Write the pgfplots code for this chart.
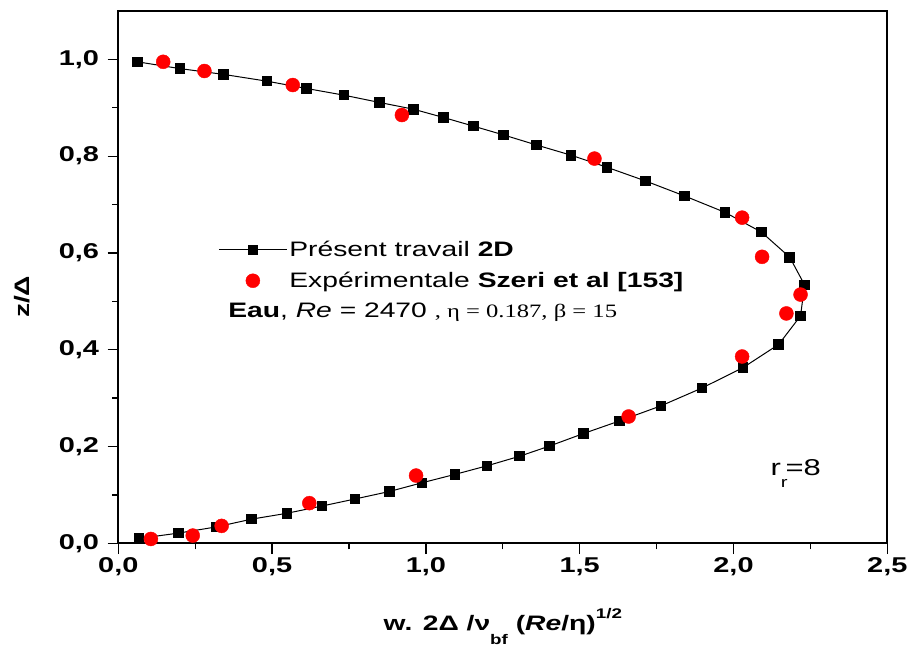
\documentclass[border=0pt]{standalone}
\usepackage{fontspec}
\setmainfont{Liberation Sans}[FakeStretch=1.35]
\newfontfamily\tnr{Liberation Serif}[FakeStretch=1.3]
\usepackage{pgfplots}
\pgfplotsset{compat=1.18}
\pgfplotstableread{
x y
0.067 0.010
0.195 0.021
0.320 0.034
0.434 0.050
0.548 0.062
0.662 0.077
0.769 0.0915
0.881 0.107
0.987 0.125
1.095 0.1425
1.198 0.160
1.305 0.180
1.402 0.201
1.513 0.227
1.630 0.253
1.764 0.284
1.898 0.321
2.031 0.363
2.147 0.411
2.218 0.470
2.231 0.534
2.183 0.591
2.091 0.643
1.972 0.684
1.840 0.718
1.713 0.749
1.589 0.777
1.472 0.802
1.360 0.823
1.252 0.844
1.155 0.862
1.057 0.880
0.960 0.897
0.849 0.911
0.734 0.926
0.611 0.940
0.483 0.955
0.342 0.969
0.200 0.981
0.062 0.995
}\simdata
\pgfplotstableread{
x y
0.106 0.009
0.242 0.016
0.336 0.036
0.621 0.083
0.968 0.140
1.659 0.262
2.028 0.386
2.172 0.475
2.218 0.514
2.093 0.592
2.028 0.673
1.548 0.795
0.922 0.885
0.567 0.947
0.280 0.976
0.146 0.995
}\expdata
\begin{document}
\begin{tikzpicture}
\useasboundingbox (-118.3bp,-104.7bp) rectangle (791.7bp,543.3bp);
\begin{axis}[
  scale only axis, width=769bp, height=532.3bp,
  at={(0,0)}, anchor=south west,
  xmin=0, xmax=2.5, ymin=0, ymax=1.1,
  clip=false,
  xtick={0,0.5,1,1.5,2,2.5}, ytick={0,0.2,0.4,0.6,0.8,1.0},
  minor x tick num=1, minor y tick num=1,
  tick pos=left, tick align=outside,
  major tick length=10.7bp, minor tick length=6bp,
  every tick/.style={black, line width=1.3bp},
  axis line style={line width=1.8bp},
  /pgf/number format/use comma,
  /pgf/number format/fixed,
  /pgf/number format/fixed zerofill,
  /pgf/number format/precision=1,
  /pgf/number format/assume math mode=true,
  tick label style={font=\bfseries\fontsize{21.5}{21.5}\selectfont},
  yticklabel style={xshift=-5bp},
  xlabel={\bfseries w. 2Δ /ν\raisebox{-14bp}{\fontsize{14}{14}\selectfont bf} (\textit{Re}/η)\raisebox{12bp}{\fontsize{14}{14}\selectfont 1/2}},
  xlabel style={at={(axis description cs:0.5,-0.163)}, anchor=base, font=\fontsize{21}{21}\selectfont},
  ylabel={\bfseries z/Δ},
  ylabel style={at={(axis description cs:-0.1246,0.463)}, anchor=center, font=\fontsize{21}{21}\selectfont},
  legend image code/.code={\draw[mark repeat=2,mark phase=2,#1] plot coordinates {(0bp,0bp) (34bp,0bp) (68bp,0bp)};},
  legend style={at={(axis description cs:0.126,0.575)}, anchor=north west, draw=none, fill=none,
    font=\fontsize{21}{21}\selectfont, row sep=10bp},
  legend cell align=left,
]
\addplot[black, line width=1bp, mark=square*, mark size=4.8bp, mark options={solid}] table[x=x,y=y] {\simdata};
\addlegendentry{Présent travail \textbf{2D}}
\addplot[only marks, red, mark=*, mark size=7bp, mark options={draw=red, fill=red}] table[x=x,y=y] {\expdata};
\addlegendentry{Expérimentale \textbf{Szeri et al [153]}}
\node[anchor=base west, font=\fontsize{21}{21}\selectfont, inner sep=0pt] at (axis cs:0.357,0.4676)
  {\textbf{Eau}, \textit{Re} = 2470 {\tnr\fontsize{19}{19}\selectfont , η = 0.187, β = 15}};
\node[anchor=base west, font=\fontsize{23}{23}\selectfont, inner sep=0pt] at (axis cs:2.12,0.141)
  {r\raisebox{-12bp}{\fontsize{15}{15}\selectfont r}\kern-2bp=8};
\end{axis}
\end{tikzpicture}
\end{document}
